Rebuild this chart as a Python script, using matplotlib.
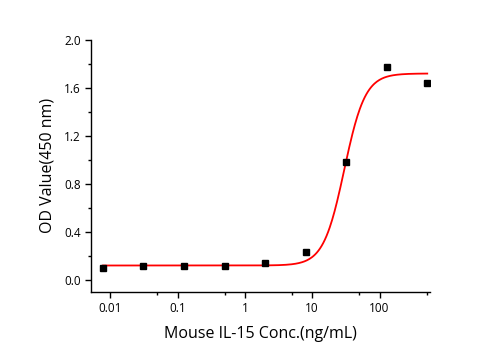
import matplotlib
matplotlib.use("Agg")
import matplotlib.pyplot as plt
import numpy as np
from matplotlib.ticker import FixedLocator, NullFormatter, MultipleLocator

# Mouse IL-15 ELISA: concentration (ng/mL) vs OD450
conc = [0.0078, 0.031, 0.125, 0.5, 2.0, 8.0, 32.0, 128.0, 512.0]
od = [0.10, 0.115, 0.115, 0.12, 0.137, 0.23, 0.98, 1.77, 1.64]

# four-parameter logistic fit
bottom, top, ec50, hill = 0.12, 1.72, 30.0, 2.8

plt.rcParams['font.family'] = ['Open Sans', 'DejaVu Sans']

fig = plt.figure(figsize=(5.01, 3.5), dpi=100)
ax = fig.add_axes([0.182, 0.166, 0.676, 0.72])

xs = np.logspace(np.log10(conc[0]), np.log10(conc[-1]), 400)
fit = bottom + (top - bottom) / (1 + (ec50 / xs) ** hill)
ax.plot(xs, fit, color='red', lw=1.3, zorder=2)
ax.plot(conc, od, 's', color='black', ms=4.5, zorder=3)

ax.set_xscale('log')
ax.set_xlim(0.0052, 560)
ax.set_ylim(-0.1, 2.0)

ax.xaxis.set_major_locator(FixedLocator([0.01, 0.1, 1, 10, 100]))
ax.xaxis.set_minor_locator(FixedLocator([0.005, 0.05, 0.5, 5, 50, 500]))
ax.xaxis.set_minor_formatter(NullFormatter())
ax.set_xticklabels(['0.01', '0.1', '1', '10', '100'])
ax.yaxis.set_major_locator(MultipleLocator(0.4))
ax.yaxis.set_minor_locator(MultipleLocator(0.2))
ax.yaxis.set_major_formatter(matplotlib.ticker.FormatStrFormatter('%.1f'))

for s in ['top', 'right']:
    ax.spines[s].set_visible(False)
for s in ['left', 'bottom']:
    ax.spines[s].set_linewidth(1.0)
ax.tick_params(which='major', direction='out', length=4, width=1, labelsize=8.5)
ax.tick_params(which='minor', direction='out', length=2.5, width=1)

ax.set_xlabel('Mouse IL-15 Conc.(ng/mL)', fontsize=11.5, labelpad=8)
ax.set_ylabel('OD Value(450 nm)', fontsize=11.5, labelpad=6)

fig.savefig('out.png', dpi=100)
